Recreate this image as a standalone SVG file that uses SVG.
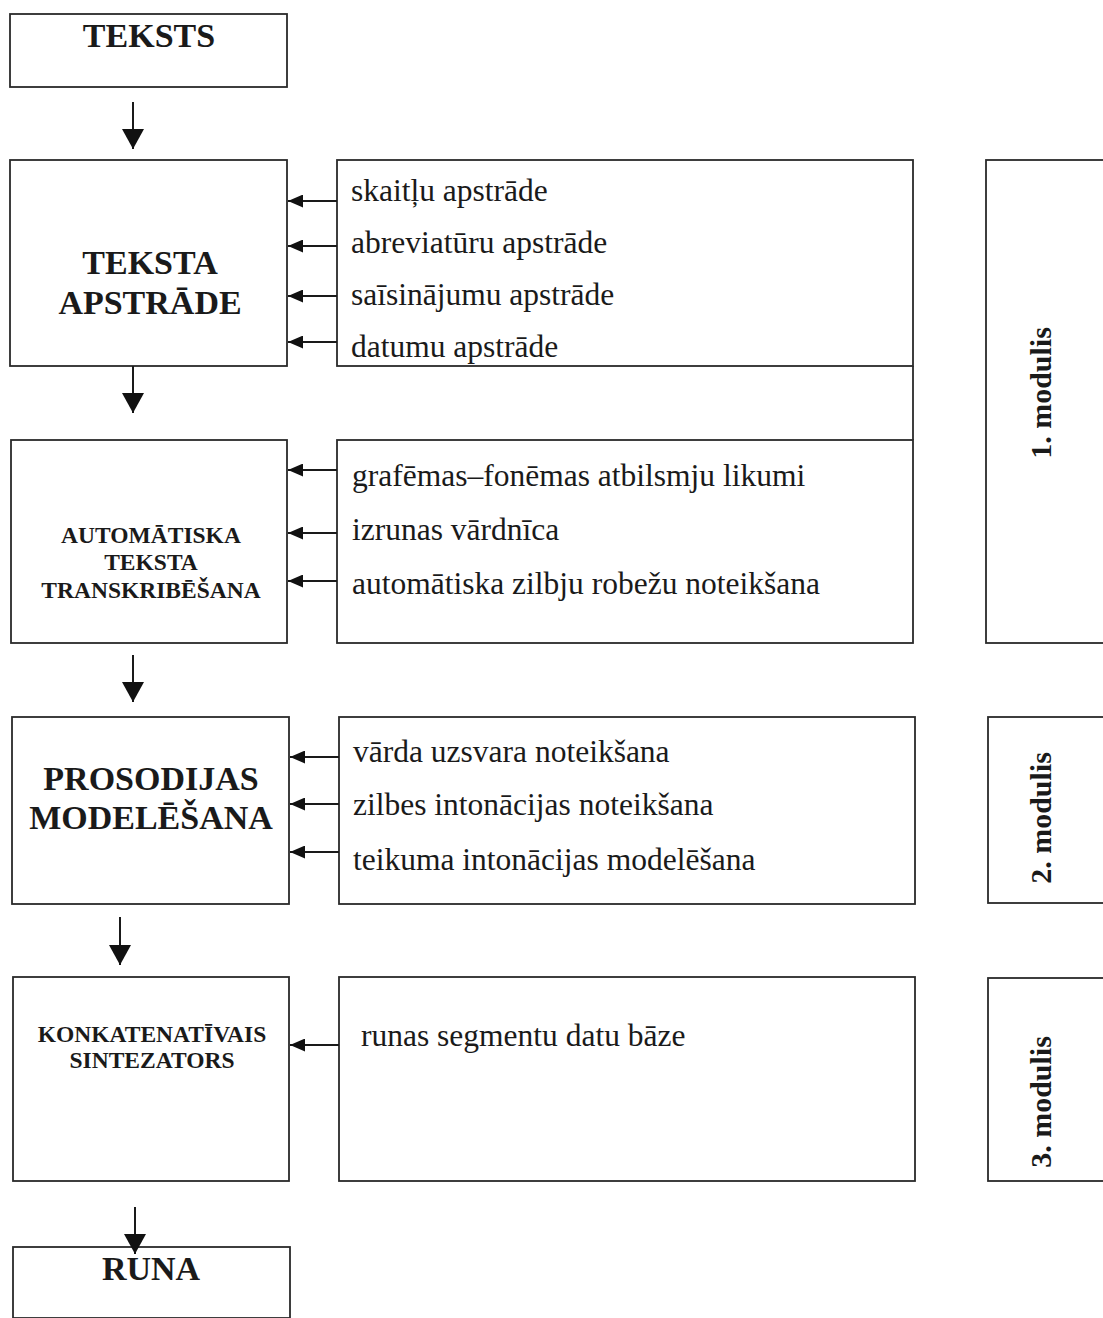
<svg xmlns="http://www.w3.org/2000/svg" width="1103" height="1318" viewBox="0 0 1103 1318">
<style>
.box{fill:none;stroke:#2a2a2a;stroke-width:1.8}
.ln{stroke:#1a1a1a;stroke-width:2;fill:none}
.hb{font-family:"Liberation Serif","Times New Roman",serif;font-weight:bold;fill:#1a1a1a;text-anchor:middle}
.big{font-size:34px}
.sm{font-size:23.5px}
.it{font-family:"Liberation Serif","Times New Roman",serif;font-size:31.5px;fill:#1a1a1a}
.mod{font-family:"Liberation Serif","Times New Roman",serif;font-weight:bold;font-size:30px;fill:#1a1a1a;text-anchor:middle}
</style>
<defs>
<marker id="ahd" viewBox="0 0 20 22" refX="20" refY="11" markerWidth="20" markerHeight="22" markerUnits="userSpaceOnUse" orient="auto">
<path d="M0,0 L20,11 L0,22 z" fill="#111"/>
</marker>
<marker id="ahs" viewBox="0 0 15 13" refX="15" refY="6.5" markerWidth="15" markerHeight="13" markerUnits="userSpaceOnUse" orient="auto">
<path d="M0,0 L15,6.5 L0,13 z" fill="#111"/>
</marker>
</defs>

<g id="node-teksts">
<rect class="box" x="10" y="14" width="277" height="73"/>
<text class="hb big" x="149" y="47">TEKSTS</text>
</g>

<g id="node-teksta-apstrade">
<rect class="box" x="10" y="160" width="277" height="206"/>
<text class="hb big" x="150" y="274">TEKSTA</text>
<text class="hb big" x="150" y="314">APSTRĀDE</text>
</g>

<g id="node-apstrade-list">
<rect class="box" x="337" y="160" width="576" height="206"/>
<line class="box" x1="913" y1="366" x2="913" y2="440"/>
<text class="it" x="351" y="201">skaitļu apstrāde</text>
<text class="it" x="351" y="253">abreviatūru apstrāde</text>
<text class="it" x="351" y="305">saīsinājumu apstrāde</text>
<text class="it" x="351" y="357">datumu apstrāde</text>
</g>

<g id="node-transkribesana">
<rect class="box" x="11" y="440" width="276" height="203"/>
<text class="hb sm" x="151" y="543">AUTOMĀTISKA</text>
<text class="hb sm" x="151" y="570">TEKSTA</text>
<text class="hb sm" x="151" y="598">TRANSKRIBĒŠANA</text>
</g>

<g id="node-transkribesana-list">
<rect class="box" x="337" y="440" width="576" height="203"/>
<text class="it" x="352" y="486">grafēmas–fonēmas atbilsmju likumi</text>
<text class="it" x="352" y="540">izrunas vārdnīca</text>
<text class="it" x="352" y="594">automātiska zilbju robežu noteikšana</text>
</g>

<g id="node-prosodija">
<rect class="box" x="12" y="717" width="277" height="187"/>
<text class="hb big" x="151" y="790">PROSODIJAS</text>
<text class="hb big" x="151" y="829">MODELĒŠANA</text>
</g>

<g id="node-prosodija-list">
<rect class="box" x="339" y="717" width="576" height="187"/>
<text class="it" x="353" y="762">vārda uzsvara noteikšana</text>
<text class="it" x="353" y="815">zilbes intonācijas noteikšana</text>
<text class="it" x="353" y="870">teikuma intonācijas modelēšana</text>
</g>

<g id="node-sintezators">
<rect class="box" x="13" y="977" width="276" height="204"/>
<text class="hb sm" x="152" y="1042">KONKATENATĪVAIS</text>
<text class="hb sm" x="152" y="1068">SINTEZATORS</text>
</g>

<g id="node-sintezators-list">
<rect class="box" x="339" y="977" width="576" height="204"/>
<text class="it" x="361" y="1046">runas segmentu datu bāze</text>
</g>

<g id="node-runa">
<rect class="box" x="13" y="1247" width="277" height="71"/>
<text class="hb big" x="151" y="1280">RUNA</text>
</g>

<g id="node-modulis-1">
<rect class="box" x="986" y="160" width="130" height="483"/>
<text class="mod" transform="translate(1051,393) rotate(-90)">1. modulis</text>
</g>
<g id="node-modulis-2">
<rect class="box" x="988" y="717" width="130" height="186"/>
<text class="mod" transform="translate(1051,818) rotate(-90)">2. modulis</text>
</g>
<g id="node-modulis-3">
<rect class="box" x="988" y="978" width="130" height="203"/>
<text class="mod" transform="translate(1051,1102) rotate(-90)">3. modulis</text>
</g>

<g id="connectors">
<line class="ln" x1="133" y1="102" x2="133" y2="149" marker-end="url(#ahd)"/>
<line class="ln" x1="133" y1="366" x2="133" y2="413" marker-end="url(#ahd)"/>
<line class="ln" x1="133" y1="655" x2="133" y2="702" marker-end="url(#ahd)"/>
<line class="ln" x1="120" y1="917" x2="120" y2="965" marker-end="url(#ahd)"/>
<line class="ln" x1="135" y1="1207" x2="135" y2="1254" marker-end="url(#ahd)"/>

<line class="ln" x1="337" y1="201" x2="288" y2="201" marker-end="url(#ahs)"/>
<line class="ln" x1="337" y1="246" x2="288" y2="246" marker-end="url(#ahs)"/>
<line class="ln" x1="337" y1="296" x2="288" y2="296" marker-end="url(#ahs)"/>
<line class="ln" x1="337" y1="342" x2="288" y2="342" marker-end="url(#ahs)"/>

<line class="ln" x1="337" y1="470" x2="288" y2="470" marker-end="url(#ahs)"/>
<line class="ln" x1="337" y1="533" x2="288" y2="533" marker-end="url(#ahs)"/>
<line class="ln" x1="337" y1="581" x2="288" y2="581" marker-end="url(#ahs)"/>

<line class="ln" x1="339" y1="757" x2="290" y2="757" marker-end="url(#ahs)"/>
<line class="ln" x1="339" y1="804" x2="290" y2="804" marker-end="url(#ahs)"/>
<line class="ln" x1="339" y1="852" x2="290" y2="852" marker-end="url(#ahs)"/>

<line class="ln" x1="339" y1="1045" x2="290" y2="1045" marker-end="url(#ahs)"/>
</g>
</svg>
